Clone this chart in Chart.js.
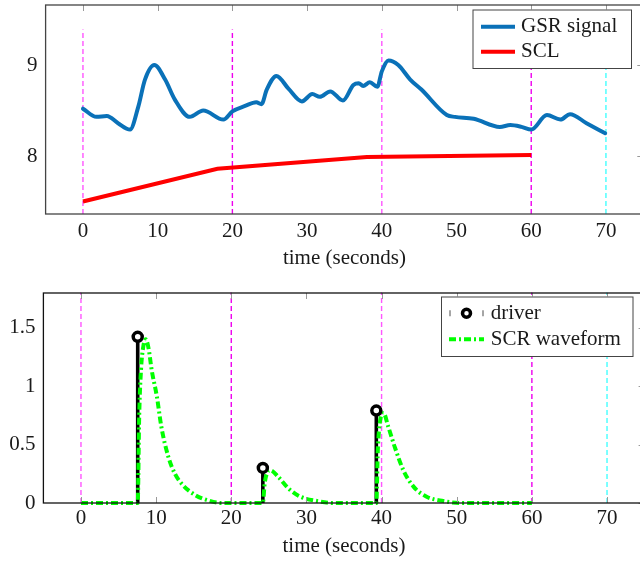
<!DOCTYPE html>
<html><head><meta charset="utf-8">
<script src="https://cdn.jsdelivr.net/npm/chart.js@4.4.1/dist/chart.umd.min.js"></script>
<style>
html,body{margin:0;padding:0;background:#fff;width:640px;height:561px;overflow:hidden;position:relative;}
#c1{position:absolute;left:0;top:0;}
#c2{position:absolute;left:0;top:280px;}
</style></head><body>
<canvas id="c1" width="660" height="280"></canvas>
<canvas id="c2" width="660" height="281"></canvas>
<script>
// ---------------- data ----------------
const gsrTime = [0, 1.8, 3.2, 4.7, 6.3, 7.4, 8.3, 9.55, 11.0, 12.3, 14.3, 16.1, 18.8, 20.0, 21.7, 23.2, 23.9, 24.6, 25.9, 27.5, 29.3, 30.7, 31.7, 33.1, 34.8, 36.2, 36.9, 37.5, 38.4, 39.4, 40.0, 40.9, 42.2, 43.8, 45.3, 48.7, 49.8, 52.3, 55.8, 57.2, 58.7, 60.0, 62.1, 63.9, 65.2, 67.4, 69.9];
const gsrValue = [8.52, 8.43, 8.44, 8.36, 8.29, 8.54, 8.84, 9.0, 8.84, 8.62, 8.43, 8.50, 8.40, 8.49, 8.55, 8.59, 8.57, 8.73, 8.88, 8.74, 8.60, 8.68, 8.65, 8.71, 8.61, 8.78, 8.80, 8.77, 8.81, 8.76, 8.93, 9.05, 9.0, 8.84, 8.73, 8.45, 8.43, 8.41, 8.32, 8.34, 8.32, 8.29, 8.45, 8.40, 8.46, 8.36, 8.25];
const sclTime = [0, 18, 38, 60];
const sclValue = [7.5, 7.86, 7.99, 8.01];
const driverTime = [7.55, 24.2, 39.3];
const driverValue = [1.42, 0.30, 0.79];
const scrTime = [0, 7.55, 7.75, 8.0, 8.3, 8.6, 9.0, 9.4, 10.1, 10.7, 11.6, 12.5, 13.6, 15.2, 17.0, 18.7, 24.2, 24.45, 24.8, 25.2, 26.3, 27.6, 29.2, 31.4, 33.5, 39.3, 39.5, 39.8, 40.25, 40.9, 41.8, 42.9, 44.25, 46.0, 48.2, 50.5, 60];
const scrValue = [0, 0, 0.75, 1.15, 1.34, 1.40, 1.32, 1.14, 0.91, 0.65, 0.40, 0.25, 0.15, 0.068, 0.02, 0, 0, 0.17, 0.26, 0.28, 0.22, 0.125, 0.054, 0.017, 0, 0, 0.45, 0.70, 0.77, 0.65, 0.47, 0.28, 0.14, 0.054, 0.017, 0, 0];
const xTicks = [0, 10, 20, 30, 40, 50, 60, 70];
const topYTicks = [8, 9];
const bottomYTicks = [0, 0.5, 1, 1.5];
const markerTimes = [0, 20, 40, 60];
const endMarkerTimes = [70];
const topMarkerSpan = [7.363, 9.39];
const bottomMarkerSpan = [0, 1.8];
const xLabel = 'time (seconds)';
const topLegendLabels = ['GSR signal', 'SCL'];
const bottomLegendLabels = ['driver', 'SCR waveform'];

// ---------------- styles ----------------
const FONT = "'Liberation Serif', 'Times New Roman', serif";
const markerColors = ['#ff55ff', '#ee00ee', '#ff55ff', '#ee00ee'];
const endMarkerColor = '#44ffff';
const BLUE = '#0a71b8', RED = '#ff0000', GREEN = '#00ff00';
const GREEN_DASH = [7, 3, 2, 3];

Chart.defaults.font.family = FONT;
Chart.defaults.font.size = 21;
Chart.defaults.color = '#1a1a1a';

const pts = (xs, ys) => xs.map((x, i) => ({x: x, y: ys[i]}));

function vlines(times, colors, span) {
  return times.map((t, i) => ({
    type: 'line',
    data: [{x: t, y: span[0]}, {x: t, y: span[1]}],
    borderColor: Array.isArray(colors) ? colors[i] : colors,
    borderWidth: 1.4,
    borderDash: [5, 3],
    pointRadius: 0,
    order: 20,
    clip: false
  }));
}

const framePlugin = {
  id: 'frame',
  afterDatasetsDraw(chart, args, o) {
    const {ctx, chartArea: a} = chart;
    const x = chart.scales.x, y = chart.scales.y;
    ctx.save();
    ctx.strokeStyle = o.tickColor; ctx.lineWidth = 1;
    ctx.beginPath();
    x.ticks.forEach(t => {
      const px = Math.round(x.getPixelForValue(t.value)) + 0.5;
      ctx.moveTo(px, a.top); ctx.lineTo(px, a.top + o.tickLen);
      if (o.bottomTicks) { ctx.moveTo(px, a.bottom); ctx.lineTo(px, a.bottom - o.tickLen); }
    });
    y.ticks.forEach(t => {
      const py = Math.round(y.getPixelForValue(t.value)) + 0.5;
      ctx.moveTo(a.right, py); ctx.lineTo(a.right - o.tickLen, py);
    });
    ctx.stroke();
    ctx.strokeStyle = o.frameColor; ctx.lineWidth = o.frameWidth;
    ctx.strokeRect(a.left, a.top, a.right - a.left, a.bottom - a.top);
    ctx.restore();
  }
};

const legendPlugin = {
  id: 'boxlegend',
  afterDraw(chart, args, o) {
    const ctx = chart.ctx;
    ctx.save();
    ctx.fillStyle = '#fff';
    ctx.fillRect(o.box[0], o.box[1], o.box[2] - o.box[0], o.box[3] - o.box[1]);
    ctx.strokeStyle = '#444'; ctx.lineWidth = 1;
    ctx.strokeRect(o.box[0] + 0.5, o.box[1] + 0.5, o.box[2] - o.box[0], o.box[3] - o.box[1]);
    o.items.forEach(it => {
      const yy = it.y;
      if (it.kind === 'line') {
        ctx.save();
        ctx.strokeStyle = it.color; ctx.lineWidth = it.width;
        ctx.setLineDash(it.dash || []);
        ctx.beginPath(); ctx.moveTo(o.sx1, yy); ctx.lineTo(o.sx2, yy); ctx.stroke();
        ctx.restore();
      } else if (it.kind === 'stem') {
        ctx.save();
        ctx.strokeStyle = '#888'; ctx.lineWidth = 1.5;
        ctx.beginPath();
        ctx.moveTo(o.sx1 + 1, yy - 3); ctx.lineTo(o.sx1 + 1, yy + 3);
        ctx.moveTo(o.sx2 - 1, yy - 3); ctx.lineTo(o.sx2 - 1, yy + 3);
        ctx.stroke();
        ctx.fillStyle = '#fff'; ctx.strokeStyle = '#000'; ctx.lineWidth = 3.5;
        ctx.beginPath(); ctx.arc((o.sx1 + o.sx2) / 2, yy, 4, 0, Math.PI * 2); ctx.fill(); ctx.stroke();
        ctx.restore();
      }
      ctx.fillStyle = '#1a1a1a';
      ctx.font = '21px ' + FONT;
      ctx.textBaseline = 'middle';
      ctx.textAlign = 'left';
      ctx.fillText(it.label, o.tx, yy);
    });
    ctx.restore();
  }
};

function xScale(height, labelPad, titlePad) {
  return {
    type: 'linear', min: -5, max: 75,
    afterBuildTicks: s => { s.ticks = xTicks.map(v => ({value: v})); },
    afterFit: s => { s.height = height; s.paddingLeft = 0; s.paddingRight = 0; },
    grid: {display: false, drawTicks: false, tickLength: 0},
    border: {display: false},
    ticks: {padding: labelPad, autoSkip: false, maxRotation: 0, callback: v => String(v)},
    title: {display: true, text: xLabel, padding: {top: 0, bottom: titlePad}}
  };
}
function yScale(min, max, ticks, width, pad) {
  return {
    type: 'linear', min: min, max: max,
    afterBuildTicks: s => { s.ticks = ticks.map(v => ({value: v})); },
    afterFit: s => { s.width = width; s.paddingTop = 0; s.paddingBottom = 0; },
    grid: {display: false, drawTicks: false, tickLength: 0},
    border: {display: false},
    ticks: {padding: pad, autoSkip: false, callback: v => String(v)}
  };
}

// ---------------- top chart ----------------
new Chart(document.getElementById('c1'), {
  type: 'line',
  data: {
    datasets: [
      {data: pts(gsrTime, gsrValue), borderColor: BLUE, borderWidth: 4, pointRadius: 0,
       cubicInterpolationMode: 'monotone', order: 1, borderJoinStyle: 'round', borderCapStyle: 'round'},
      {data: pts(sclTime, sclValue), borderColor: RED, borderWidth: 4, pointRadius: 0, tension: 0, order: 2},
      ...vlines(markerTimes, markerColors, topMarkerSpan),
      ...vlines(endMarkerTimes, endMarkerColor, topMarkerSpan)
    ]
  },
  options: {
    responsive: false, animation: false, devicePixelRatio: 1,
    layout: {padding: {left: 0, right: 16.7, top: 5, bottom: 0}},
    scales: {x: xScale(66, 5, 9.4), y: yScale(7.363, 9.659, topYTicks, 45.6, 8)},
    plugins: {
      legend: {display: false}, tooltip: {enabled: false},
      frame: {tickColor: '#999', tickLen: 6, bottomTicks: false, frameColor: '#444', frameWidth: 1.3},
      boxlegend: {
        box: [472.5, 9.5, 631, 68],
        sx1: 481, sx2: 515, tx: 521,
        items: [
          {label: topLegendLabels[0], kind: 'line', color: BLUE, width: 4, y: 26.7},
          {label: topLegendLabels[1], kind: 'line', color: RED, width: 4, y: 51.7}
        ]
      }
    }
  },
  plugins: [framePlugin, legendPlugin]
});

// ---------------- bottom chart ----------------
const stemSets = driverTime.map((t, i) => ({
  data: [{x: t, y: 0}, {x: t, y: driverValue[i]}],
  borderColor: '#000', borderWidth: 3.6, pointRadius: 0, order: 5
}));

new Chart(document.getElementById('c2'), {
  type: 'line',
  data: {
    datasets: [
      {data: pts(driverTime, driverValue), showLine: false, pointRadius: 4.5, pointBorderWidth: 3.5,
       pointBorderColor: '#000', pointBackgroundColor: '#fff', pointStyle: 'circle', order: 1, clip: false},
      {data: pts(scrTime, scrValue), borderColor: GREEN, borderWidth: 4, borderDash: GREEN_DASH,
       pointRadius: 0, cubicInterpolationMode: 'monotone', order: 3, clip: false},
      ...stemSets,
      ...vlines(markerTimes, markerColors, bottomMarkerSpan),
      ...vlines(endMarkerTimes, endMarkerColor, bottomMarkerSpan)
    ]
  },
  options: {
    responsive: false, animation: false, devicePixelRatio: 1,
    layout: {padding: {left: 0, right: 15.4, top: 13, bottom: 0}},
    scales: {x: xScale(58, 3, 2.4), y: yScale(0, 1.795, bottomYTicks, 43.4, 8)},
    plugins: {
      legend: {display: false}, tooltip: {enabled: false},
      frame: {tickColor: '#999', tickLen: 6, bottomTicks: true, frameColor: '#111', frameWidth: 1.3},
      boxlegend: {
        box: [441, 16.5, 632.5, 76],
        sx1: 449, sx2: 484, tx: 490.7,
        items: [
          {label: bottomLegendLabels[0], kind: 'stem', y: 33.3},
          {label: bottomLegendLabels[1], kind: 'line', color: GREEN, width: 4, dash: GREEN_DASH, y: 59.3}
        ]
      }
    }
  },
  plugins: [framePlugin, legendPlugin]
});
</script>
</body></html>
